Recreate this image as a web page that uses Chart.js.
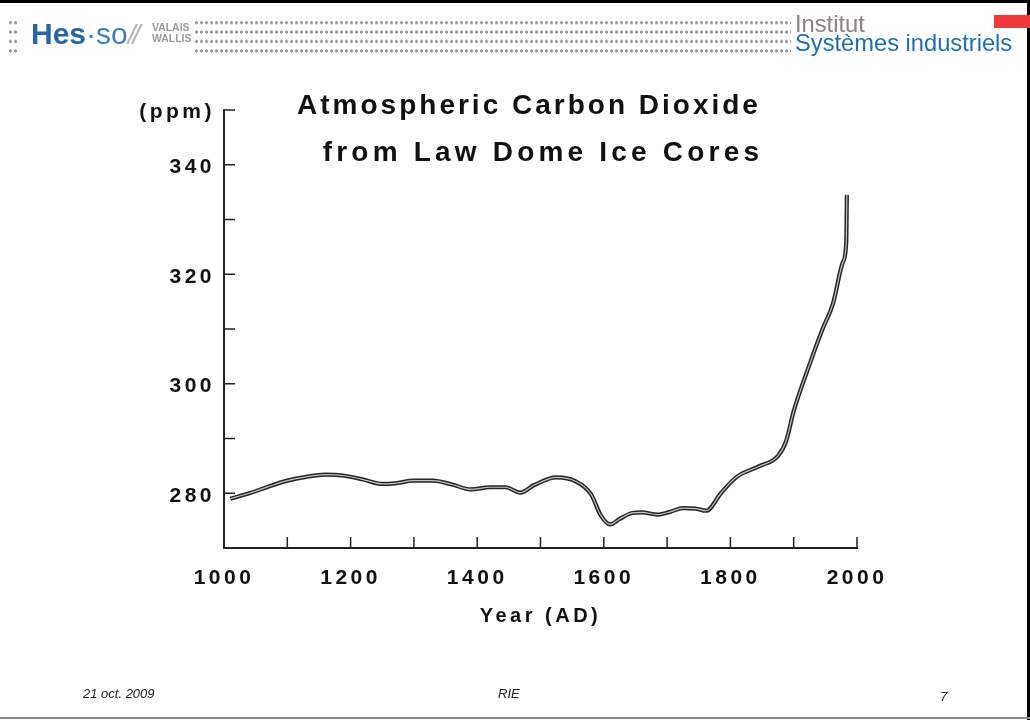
<!DOCTYPE html>
<html lang="fr">
<head>
    <meta charset="UTF-8">
    <title>Atmospheric Carbon Dioxide from Law Dome Ice Cores</title>
    <script src="https://cdn.jsdelivr.net/npm/chart.js"></script>
    <style>
        body {
            margin: 0;
            width: 1030px;
            height: 720px;
            position: relative;
            background: #fff;
            font-family: 'Liberation Sans', Arial, sans-serif;
            overflow: hidden;
        }

        #chart {
            position: absolute;
            left: 0;
            top: 0;
        }

        .frame-top { position: absolute; left: 0; top: 0; width: 1030px; height: 3px; background: #000; }
        .frame-right { position: absolute; left: 1027px; top: 0; width: 3px; height: 720px; background: #000; }
        .frame-bottom { position: absolute; left: 0; top: 717px; width: 1030px; height: 2px; background: #8a8a8a; }

        .dots {
            position: absolute;
            background-image: radial-gradient(circle, #959595 1.3px, transparent 1.8px);
            background-size: 5px 9.4px;
        }

        .logo {
            position: absolute;
            left: 31px;
            top: 14px;
            white-space: nowrap;
            line-height: 40px;
        }
        .logo .hes { color: #2467a8; font-weight: bold; font-size: 30px; }
        .logo .so { color: #3b7fc0; font-size: 30px; }
        .logo .slash { color: #b4b4b4; font-size: 28px; font-style: italic; letter-spacing: -3px; }
        .valais {
            position: absolute;
            left: 152px;
            top: 22px;
            color: #9a9a9a;
            font-weight: bold;
            font-size: 11px;
            line-height: 11px;
            transform: scaleX(0.95);
            transform-origin: left;
        }

        .institut {
            position: absolute;
            left: 795px;
            font-size: 23.7px;
            line-height: 23px;
            white-space: nowrap;
        }

        .red-mark { position: absolute; left: 994px; top: 15px; width: 36px; height: 13px; background: #f03a3a; }

        .title {
            position: absolute;
            width: 600px;
            text-align: center;
            font-weight: bold;
            font-size: 28px;
            line-height: 28px;
            letter-spacing: 3px;
            color: #111;
        }

        .footer {
            position: absolute;
            top: 686px;
            font-size: 13px;
            font-style: italic;
            color: #222;
        }
    </style>
</head>
<body>
<canvas id="chart" width="1030" height="720"></canvas>

<div class="frame-top"></div>
<div class="frame-right"></div>
<div class="frame-bottom"></div>

<div class="dots" style="left:8px; top:18px; width:10px; height:38px;"></div>
<div class="logo"><span class="hes">Hes</span><span class="so">·so</span><span class="slash">//</span></div>
<div class="valais">VALAIS<br>WALLIS</div>
<div class="dots" style="left:194px; top:18px; width:597px; height:38px;"></div>
<div class="institut" style="top:13px; color:#8a8282;">Institut</div>
<div class="institut" style="top:32px; color:#1c6fb2;">Systèmes industriels</div>
<div class="red-mark"></div>

<div class="title" style="left:229px; top:91px;">Atmospheric Carbon Dioxide</div>
<div class="title" style="left:243px; top:138px; letter-spacing:4.2px;">from Law Dome Ice Cores</div>

<div class="footer" style="left:83px;">21 oct. 2009</div>
<div class="footer" style="left:498px;">RIE</div>
<div class="footer" style="left:940px; top:689px;">7</div>

<script>
    // CO2 (ppm)
    const years = [1010, 1040, 1070, 1100, 1130, 1160, 1190, 1220, 1250, 1270,
        1300, 1330, 1360, 1390, 1420, 1445, 1468, 1490, 1525, 1555,
        1580, 1595, 1610, 1625, 1645, 1660, 1685, 1705, 1725, 1745,
        1762, 1785, 1810, 1845, 1875, 1888, 1900, 1925, 1945, 1962,
        1978, 1983, 1984];
    const co2 = [279.0, 280.0, 281.2, 282.3, 283.0, 283.4, 283.2, 282.5, 281.7, 281.8,
        282.3, 282.3, 281.6, 280.7, 281.1, 281.1, 280.1, 281.5, 282.9, 282.2,
        279.8, 276.0, 274.3, 275.3, 276.4, 276.5, 276.1, 276.6, 277.3, 277.2,
        276.8, 280.0, 283.0, 284.9, 286.8, 289.5, 295.0, 303.5, 309.8, 314.6,
        322.3, 325.8, 334.5];

    const xTickValues = [1000, 1200, 1400, 1600, 1800, 2000];
    const xTickLabels = ['1000', '1200', '1400', '1600', '1800', '2000'];
    const yTickValues = [350, 340, 320, 300, 280];
    const yTickLabels = ['(ppm)', '340', '320', '300', '280'];

    const points = years.map((yr, i) => ({x: yr, y: co2[i]}));
    const fontFamily = "'Liberation Sans', Arial, sans-serif";

    // ticks on this chart point inward, so draw them ourselves
    const innerTicks = {
        id: 'innerTicks',
        afterDraw(chart) {
            const {ctx, chartArea: a, scales: {x, y}} = chart;
            ctx.save();
            ctx.strokeStyle = '#222';
            ctx.lineWidth = 1.5;
            ctx.beginPath();
            x.ticks.forEach(t => {
                const px = x.getPixelForValue(t.value);
                ctx.moveTo(px, a.bottom);
                ctx.lineTo(px, a.bottom - 11);
            });
            y.ticks.forEach(t => {
                if (t.value === 270) return;
                const py = y.getPixelForValue(t.value);
                ctx.moveTo(a.left, py);
                ctx.lineTo(a.left + 11, py);
            });
            ctx.stroke();
            ctx.restore();
        }
    };

    // the labels in the original are widely spaced
    const spacedText = {
        id: 'spacedText',
        beforeDraw(chart) { chart.ctx.letterSpacing = '3.5px'; },
        afterDraw(chart) { chart.ctx.letterSpacing = '0px'; }
    };

    const ctx = document.getElementById('chart').getContext('2d');
    new Chart(ctx, {
        type: 'line',
        data: {
            datasets: [{
                // dark outer stroke
                data: points,
                order: 2,
                borderColor: '#262626',
                borderWidth: 4.2,
                pointRadius: 0,
                cubicInterpolationMode: 'monotone'
            }, {
                // light core, drawn on top
                data: points,
                order: 1,
                borderColor: '#c4c4c4',
                borderWidth: 1.2,
                pointRadius: 0,
                cubicInterpolationMode: 'monotone'
            }]
        },
        options: {
            responsive: false,
            animation: false,
            layout: {
                padding: {left: 104, top: 110, right: 173, bottom: 92}
            },
            plugins: {
                legend: {display: false},
                tooltip: {enabled: false}
            },
            scales: {
                x: {
                    type: 'linear',
                    min: 1000,
                    max: 2000,
                    afterFit: s => { s.height = 80; },
                    grid: {display: false, drawTicks: false},
                    border: {color: '#222', width: 2},
                    ticks: {
                        stepSize: 100,
                        autoSkip: false,
                        maxRotation: 0,
                        padding: 18,
                        color: '#111',
                        font: {family: fontFamily, size: 21, weight: 'bold'},
                        callback: v => {
                            const i = xTickValues.indexOf(v);
                            return i >= 0 ? xTickLabels[i] : '';
                        }
                    },
                    title: {
                        display: true,
                        text: 'Year (AD)',
                        color: '#111',
                        padding: {top: 0, bottom: 0},
                        font: {family: fontFamily, size: 20, weight: 'bold'}
                    }
                },
                y: {
                    min: 270,
                    max: 350,
                    afterFit: s => { s.width = 120; },
                    grid: {display: false, drawTicks: false},
                    border: {color: '#222', width: 2},
                    ticks: {
                        stepSize: 10,
                        autoSkip: false,
                        padding: 9,
                        labelOffset: 2.5,
                        color: '#111',
                        font: {family: fontFamily, size: 21, weight: 'bold'},
                        callback: v => {
                            const i = yTickValues.indexOf(v);
                            return i >= 0 ? yTickLabels[i] : '';
                        }
                    }
                }
            }
        },
        plugins: [innerTicks, spacedText]
    });
</script>
</body>
</html>
